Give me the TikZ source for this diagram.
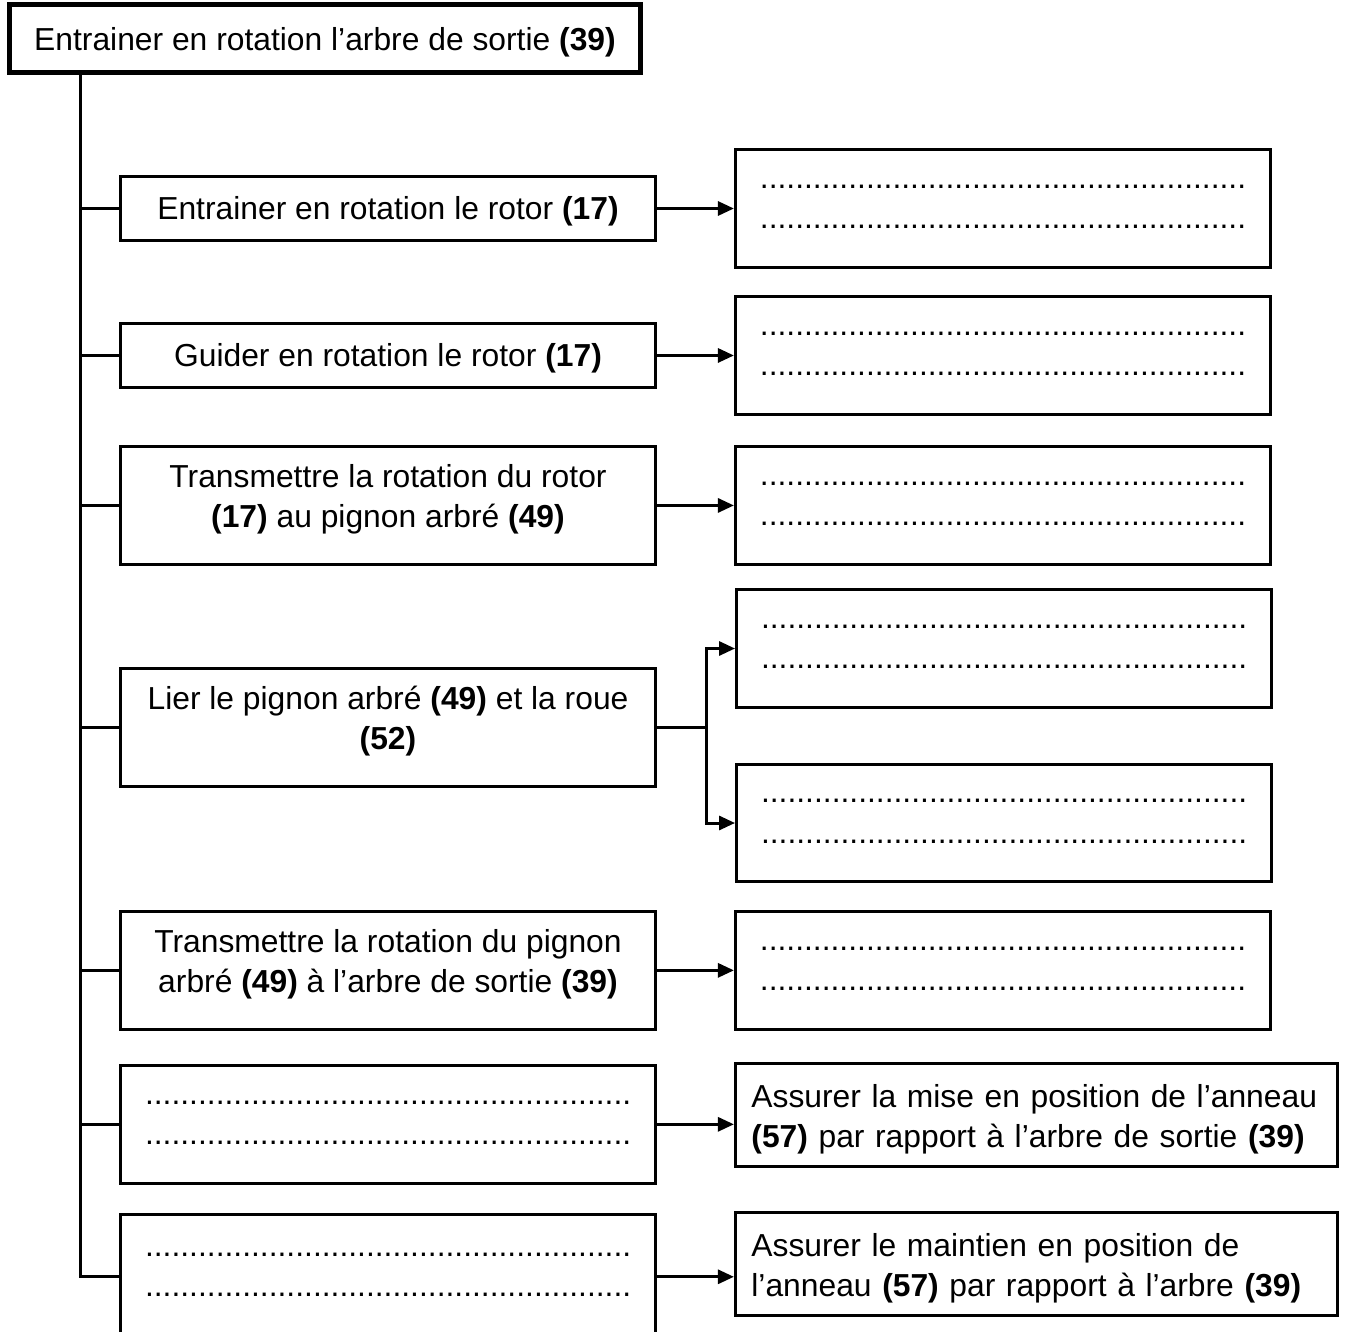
\documentclass[tikz,border=0pt]{standalone}
\usepackage{fontspec}
\setmainfont{Liberation Sans}
\usepackage{tikz}
\usetikzlibrary{arrows.meta, positioning, calc}

\begin{document}
\begin{tikzpicture}[
  x=0.02cm, y=-0.02cm,
  font=\fontsize{18.1}{22.8}\selectfont,
  root/.style={rectangle, draw, line width=0.1cm, minimum width=12.62cm,
               minimum height=1.38cm, inner sep=0pt, text height=0.6cm, text depth=0.1cm},
  task/.style={rectangle, draw, line width=0.06cm, minimum width=10.7cm,
               inner sep=0pt, align=center},
  short/.style={task, minimum height=1.28cm, text height=0.56cm, text depth=0.12cm},
  tall/.style={task, minimum height=2.36cm, text height=1.6cm, text depth=0.7cm},
  blank/.style={task, minimum height=2.36cm, align=left, text height=1.5cm, text depth=0.7cm},
  wide/.style={task, minimum width=12.04cm, minimum height=2.06cm, align=left,
               text width=11.4cm, text height=0.7cm, text depth=1.0cm},
  link/.style={line width=0.06cm},
  arrow/.style={-{Triangle[length=0.32cm, width=0.28cm]}, line width=0.06cm},
]
  \clip (0,0) rectangle (1346,1332);

  % Main function
  \node[root] (main) at (325,38.5) {Entrainer en rotation l’arbre de sortie \textbf{(39)}};
  \coordinate (spine) at (80,0);

  % Sub-functions
  \node[short] (lf1) at (388,208.5) {Entrainer en rotation le rotor \textbf{(17)}};
  \node[short, below=1.6cm of lf1] (lf2) {Guider en rotation le rotor \textbf{(17)}};
  \node[tall, below=1.12cm of lf2] (lf3) {Transmettre la rotation du rotor\\\textbf{(17)} au pignon arbré \textbf{(49)}};
  \node[tall, below=2.02cm of lf3] (lf4) {Lier le pignon arbré \textbf{(49)} et la roue\\\textbf{(52)}};
  \node[tall, below=2.44cm of lf4] (lf5) {Transmettre la rotation du pignon\\arbré \textbf{(49)} à l’arbre de sortie \textbf{(39)}};
  \node[blank, below=0.66cm of lf5] (lf6) {.......................................................\\.......................................................};
  \node[blank, below=0.56cm of lf6, minimum height=2.5cm] (lf7) {.......................................................\\.......................................................};

  % Solutions
  \node[blank, right=1.54cm of lf1] (rt1) {.......................................................\\.......................................................};
  \node[blank, right=1.54cm of lf2] (rt2) {.......................................................\\.......................................................};
  \node[blank, right=1.54cm of lf3] (rt3) {.......................................................\\.......................................................};
  \node[blank] (rt4a) at (1004,648.5) {.......................................................\\.......................................................};
  \node[blank] (rt4b) at (1004,823) {.......................................................\\.......................................................};
  \node[blank, right=1.54cm of lf5] (rt5) {.......................................................\\.......................................................};
  \node[wide, right=1.54cm of lf6, yshift=0.19cm] (rt6) {Assurer la mise en position de l’anneau\\\textbf{(57)} par rapport à l’arbre de sortie \textbf{(39)}};
  \node[wide, right=1.54cm of lf7, yshift=0.26cm] (rt7) {Assurer le maintien en position de\\l’anneau \textbf{(57)} par rapport à l’arbre \textbf{(39)}};

  % Tree
  \draw[link] (main.south -| spine) |- (lf7.west);
  \draw[link] (spine |- lf1.west) -- (lf1.west);
  \draw[link] (spine |- lf2.west) -- (lf2.west);
  \draw[link] (spine |- lf3.west) -- (lf3.west);
  \draw[link] (spine |- lf4.west) -- (lf4.west);
  \draw[link] (spine |- lf5.west) -- (lf5.west);
  \draw[link] (spine |- lf6.west) -- (lf6.west);

  % Arrows
  \draw[arrow] (lf1) -- (rt1);
  \draw[arrow] (lf2) -- (rt2);
  \draw[arrow] (lf3) -- (rt3);
  \coordinate (fork) at ($(lf4.east)+(1cm,0)$);
  \draw[link] (lf4.east) -- (fork);
  \draw[arrow] (fork) |- (rt4a.west);
  \draw[arrow] (fork) |- (rt4b.west);
  \draw[arrow] (lf5) -- (rt5);
  \draw[arrow] (lf6.east) -- (lf6.east -| rt6.west);
  \draw[arrow] (lf7.east) -- (lf7.east -| rt7.west);
\end{tikzpicture}
\end{document}
